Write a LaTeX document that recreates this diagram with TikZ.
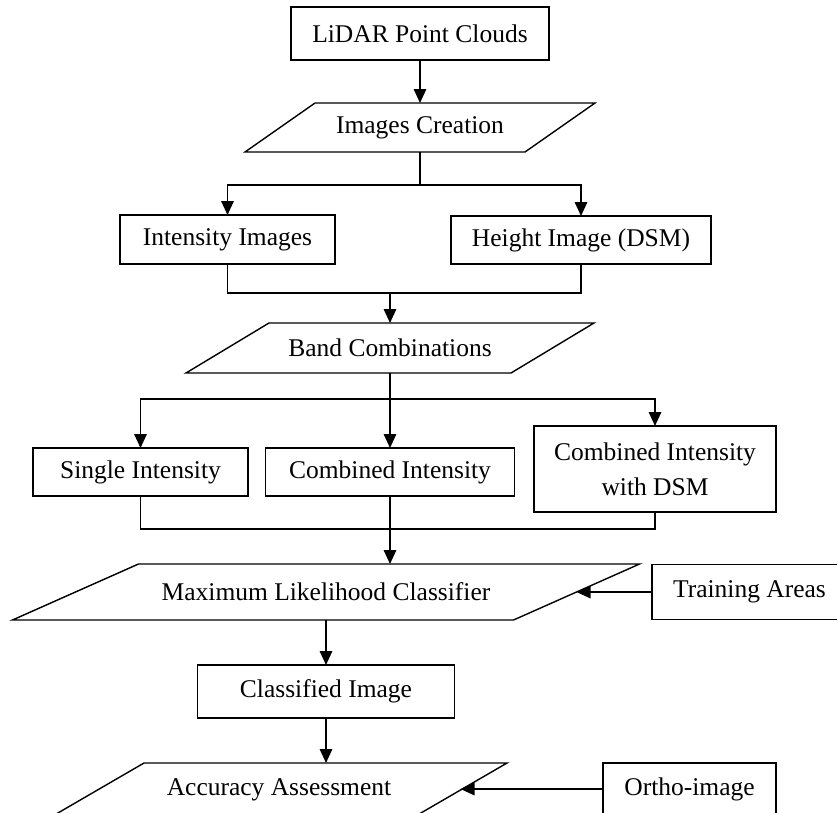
\documentclass[tikz,border=0pt]{standalone}
\usepackage{fontspec}
\setmainfont{Liberation Serif}
\usetikzlibrary{arrows.meta,calc}
\newcommand\drawpara[2]{\draw[box] ($(#1.north west)+(#2,0)$) -- (#1.north east) -- ($(#1.south east)+(-#2,0)$) -- (#1.south west) -- cycle;}
\begin{document}
\begin{tikzpicture}[x=1pt,y=-1pt,
  every node/.style={font=\fontsize{25.5}{35}\selectfont, inner sep=0pt, outer sep=0pt, align=center},
  box/.style={draw, line width=1.4pt},
  conn/.style={line width=1.6pt},
  arr/.style={conn, -{Triangle[length=14pt,width=12.5pt]}},
]
\clip (0,0) rectangle (837,812);
% nodes
\node[box, minimum width=258pt, minimum height=53pt] (lidar) at (420,33.5) {LiDAR Point Clouds};
\node[minimum width=350pt, minimum height=49pt] (ic) at (420,127.5) {Images Creation};
\drawpara{ic}{70}
\node[box, minimum width=215pt, minimum height=49pt] (int) at (227.5,239.5) {Intensity Images};
\node[box, minimum width=260pt, minimum height=48pt] (hgt) at (581,240) {Height Image (DSM)};
\node[minimum width=408pt, minimum height=50pt] (bc) at (390,348) {Band Combinations};
\drawpara{bc}{83}
\node[box, minimum width=215pt, minimum height=48pt] (si) at (140.5,472) {Single Intensity};
\node[box, minimum width=249pt, minimum height=48pt] (ci) at (390,472) {Combined Intensity};
\node[box, minimum width=242pt, minimum height=86pt] (cid) at (655,469) {Combined Intensity\\with DSM};
\node[minimum width=627pt, minimum height=56pt] (mlc) at (326,592) {Maximum Likelihood Classifier};
\drawpara{mlc}{126}
\node[box, minimum width=195pt, minimum height=55pt] (ta) at (749.5,592) {Training Areas};
\node[box, minimum width=257pt, minimum height=53pt] (cl) at (326,691.5) {Classified Image};
\node[minimum width=456pt, minimum height=54pt] (aa) at (279,790) {Accuracy Assessment};
\drawpara{aa}{93}
\node[box, minimum width=173pt, minimum height=52pt] (ortho) at (689.5,789) {Ortho-image};
% junctions
\coordinate (j1) at (420,185);
\coordinate (j2) at (390,293);
\coordinate (j3) at (390,399);
\coordinate (j4) at (390,529);
\coordinate (mlcR) at ($(mlc.east)+(-63,0)$);
\coordinate (aaR) at ($(aa.east)+(-46.5,0)$);
% connectors
\draw[arr] (lidar.south) -- (ic.north);
\draw[conn] (ic.south) -- (j1);
\draw[arr] (j1) -| (int.north);
\draw[arr] (j1) -| (hgt.north);
\draw[conn] (int.south) |- (j2) -| (hgt.south);
\draw[arr] (j2) -- (bc.north);
\draw[conn] (bc.south) -- (j3);
\draw[arr] (j3) -| (si.north);
\draw[arr] (j3) -- (ci.north);
\draw[arr] (j3) -| (cid.north);
\draw[conn] (si.south) |- (j4) -| (cid.south);
\draw[conn] (ci.south) -- (j4);
\draw[arr] (j4) -- (j4 |- mlc.north);
\draw[arr] (ta.west) -- (mlcR);
\draw[arr] (mlc.south) -- (cl.north);
\draw[arr] (cl.south) -- (cl.south |- aa.north);
\draw[arr] (ortho.west) -- (ortho.west -| aaR);
\end{tikzpicture}
\end{document}
